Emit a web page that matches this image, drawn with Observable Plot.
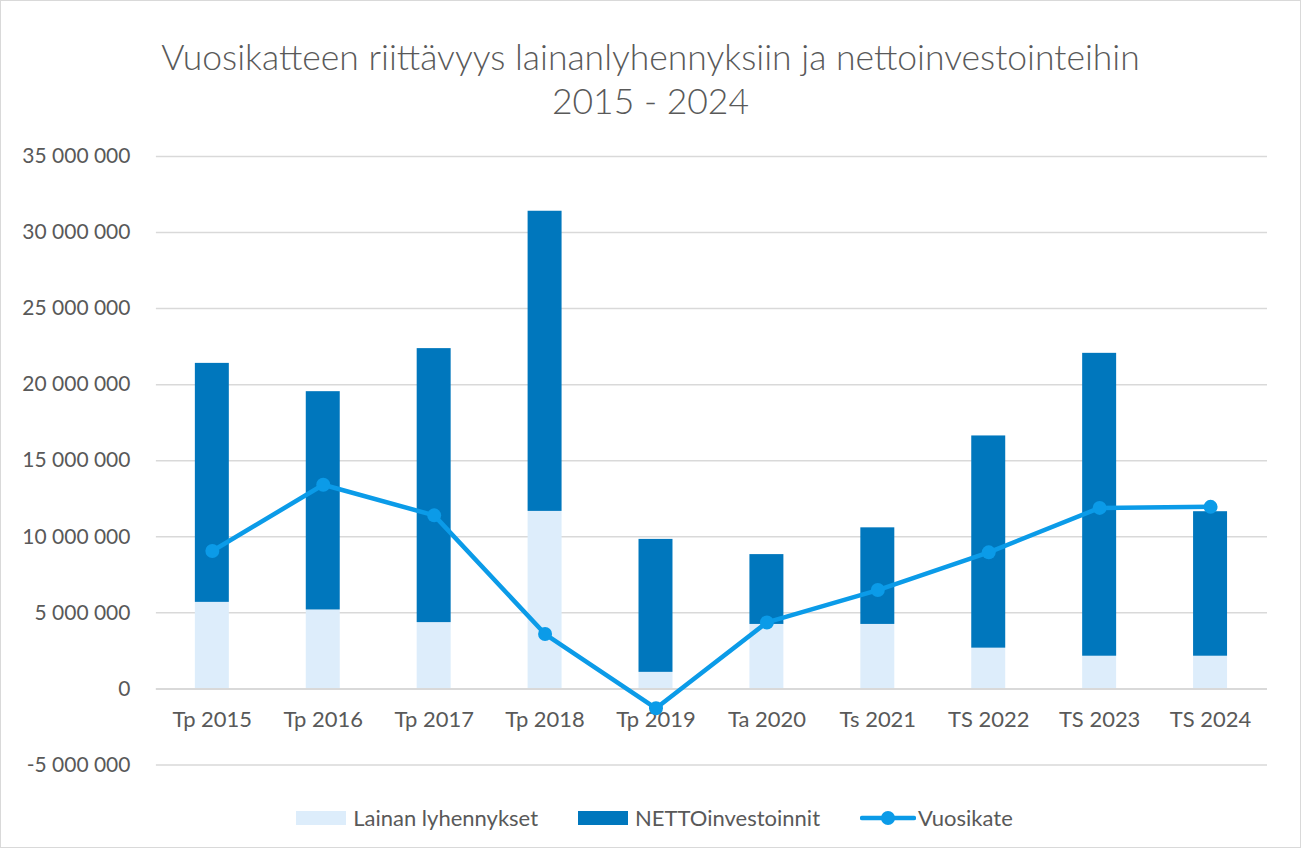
<!DOCTYPE html>
<html>
<head>
<meta charset="utf-8">
<script src="https://cdn.jsdelivr.net/npm/d3@7"></script>
<script src="https://cdn.jsdelivr.net/npm/@observablehq/plot@0.6"></script>
<style>
  html, body { margin: 0; padding: 0; background: #fff; }
  #wrap { position: relative; width: 1299px; height: 846px; border: 1px solid #d9d9d9; overflow: hidden;
          font-family: Lato, "Noto Sans", sans-serif; color: #595959; }
  #title { position: absolute; top: 34px; left: 0; width: 1299px; text-align: center; font-size: 35.5px; line-height: 44px; font-weight: 300; }
  #chart { position: absolute; top: 129px; left: -1px; }
  #legend { position: absolute; top: 803px; left: 4px; width: 1299px; display: flex; justify-content: center; align-items: center; font-size: 22px; }
  .item { display: flex; align-items: center; margin: 0 20px; }
  .sw { width: 50px; height: 14px; margin-right: 7px; }
</style>
</head>
<body>
<div id="wrap">
  <div id="title">Vuosikatteen riittävyys lainanlyhennyksiin ja nettoinvestointeihin<br>2015 - 2024</div>
  <div id="chart"></div>
  <div id="legend"></div>
</div>
<script>
const categories = ["Tp 2015", "Tp 2016", "Tp 2017", "Tp 2018", "Tp 2019", "Ta 2020", "Ts 2021", "TS 2022", "TS 2023", "TS 2024"];
const lainanLyhennykset = [5690000, 5190000, 4360000, 11670000, 1090000, 4240000, 4240000, 2680000, 2150000, 2150000];
const nettoInvestoinnit = [15710000, 14350000, 18010000, 19730000, 8740000, 4590000, 6350000, 13950000, 19910000, 9500000];
const vuosikate = [9070000, 13420000, 11410000, 3610000, -1270000, 4370000, 6500000, 8980000, 11900000, 11970000];
const seriesNames = ["Lainan lyhennykset", "NETTOinvestoinnit", "Vuosikate"];
const seriesColors = ["#ddedfb", "#0077bd", "#0b9be8"];
const yTicks = [-5000000, 0, 5000000, 10000000, 15000000, 20000000, 25000000, 30000000, 35000000];

const bars = [];
categories.forEach((c, i) => {
  bars.push({cat: c, series: seriesNames[0], value: lainanLyhennykset[i]});
  bars.push({cat: c, series: seriesNames[1], value: nettoInvestoinnit[i]});
});
const line = categories.map((c, i) => ({cat: c, value: vuosikate[i]}));

const locale = d3.formatLocale({decimal: ",", thousands: " ", grouping: [3], currency: ["", ""], minus: "-"});
const fmt = locale.format(",");

const chart = Plot.plot({
  width: 1301,
  height: 660,
  marginTop: 26,
  marginBottom: 25,
  marginLeft: 156,
  marginRight: 33,
  style: {fontFamily: 'Lato, "Noto Sans", sans-serif', color: "#595959", background: "transparent"},
  x: {domain: categories, paddingInner: 0.69, paddingOuter: 0.345, axis: null},
  y: {domain: [-5000000, 35000000], axis: null},
  color: {domain: seriesNames, range: seriesColors},
  marks: [
    Plot.gridY(yTicks, {stroke: "#d9d9d9", strokeOpacity: 1, strokeWidth: 1.5}),
    Plot.axisY(yTicks, {tickSize: 0, tickPadding: 26, tickFormat: fmt, fontSize: 21, fill: "#595959", label: null}),
    Plot.barY(bars, {x: "cat", y: "value", fill: "series", order: seriesNames}),
    Plot.ruleY([0], {stroke: "#d9d9d9", strokeWidth: 2}),
    Plot.text(categories, {x: d => d, y: () => 0, dy: 31, fontSize: 22, fill: "#595959"}),
    Plot.line(line, {x: "cat", y: "value", stroke: seriesColors[2], strokeWidth: 4.5, strokeLinejoin: "round", strokeLinecap: "round"}),
    Plot.dot(line, {x: "cat", y: "value", r: 7, fill: seriesColors[2], stroke: "none"})
  ]
});
document.getElementById("chart").appendChild(chart);

const legend = document.getElementById("legend");
seriesNames.forEach((name, i) => {
  const item = document.createElement("div");
  item.className = "item";
  if (i < 2) {
    item.innerHTML = `<div class="sw" style="background:${seriesColors[i]}"></div><span>${name}</span>`;
  } else {
    item.innerHTML = `<svg width="56" height="16" style="margin-right:2px"><line x1="2" y1="8" x2="54" y2="8" stroke="${seriesColors[i]}" stroke-width="4.5" stroke-linecap="round"/><circle cx="28" cy="8" r="7" fill="${seriesColors[i]}"/></svg><span>${name}</span>`;
  }
  legend.appendChild(item);
});
</script>
</body>
</html>
